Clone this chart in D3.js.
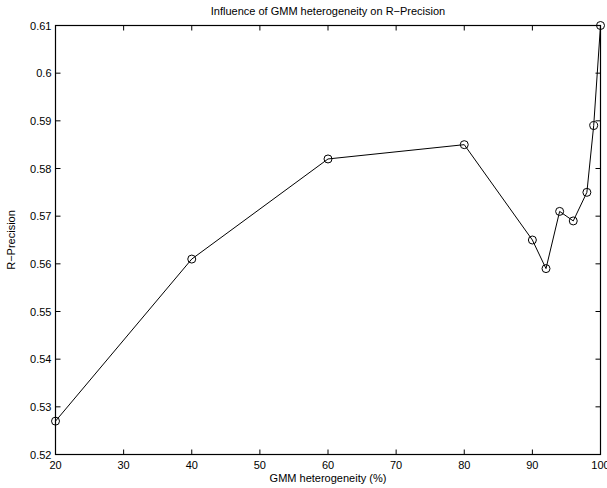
<!DOCTYPE html>
<html><head><meta charset="utf-8">
<script src="https://cdn.jsdelivr.net/npm/d3@7/dist/d3.min.js"></script>
<style>body{margin:0;background:#fff}svg{display:block}text{font-family:"Liberation Sans",Arial,sans-serif;fill:#000}</style>
</head><body><svg id="c" width="607" height="488"></svg>
<script>
const xValues = [20, 40, 60, 80, 90, 92, 94, 96, 98, 99, 100];
const yValues = [0.527, 0.561, 0.582, 0.585, 0.565, 0.559, 0.571, 0.569, 0.575, 0.589, 0.61];
const xTicks = [20, 30, 40, 50, 60, 70, 80, 90, 100];
const yTicks = [0.52, 0.53, 0.54, 0.55, 0.56, 0.57, 0.58, 0.59, 0.6, 0.61];
const titleText = "Influence of GMM heterogeneity on R\u2212Precision";
const xLabel = "GMM heterogeneity (%)";
const yLabel = "R\u2212Precision";

const svg = d3.select("#c");
const L = 55.5, R = 600.5, T = 25.5, B = 454.5;
const x = d3.scaleLinear().domain([20, 100]).range([L, R]);
const y = d3.scaleLinear().domain([0.52, 0.61]).range([B, T]);
const tl = 5;
const fmtY = d => String(d).replace(/^0\.(\d)0$/, "0.$1");

svg.append("rect").attr("x", L).attr("y", T).attr("width", R - L).attr("height", B - T)
  .attr("fill", "none").attr("stroke", "#000").attr("stroke-width", 1.2);

const g = svg.append("g");
xTicks.forEach(t => {
  g.append("line").attr("x1", x(t)).attr("x2", x(t)).attr("y1", B).attr("y2", B - tl).attr("stroke", "#000");
  g.append("line").attr("x1", x(t)).attr("x2", x(t)).attr("y1", T).attr("y2", T + tl).attr("stroke", "#000");
  g.append("text").attr("x", x(t)).attr("y", B + 14).attr("text-anchor", "middle").attr("font-size", 11).text(t);
});
yTicks.forEach(t => {
  g.append("line").attr("x1", L).attr("x2", L + tl).attr("y1", y(t)).attr("y2", y(t)).attr("stroke", "#000");
  g.append("line").attr("x1", R).attr("x2", R - tl).attr("y1", y(t)).attr("y2", y(t)).attr("stroke", "#000");
  g.append("text").attr("x", L - 4).attr("y", y(t) + 4).attr("text-anchor", "end").attr("font-size", 11).text(fmtY(t));
});

const pts = xValues.map((v, i) => [v, yValues[i]]);
svg.append("path").datum(pts)
  .attr("d", d3.line().x(d => x(d[0])).y(d => y(d[1])))
  .attr("fill", "none").attr("stroke", "#000").attr("stroke-width", 1);
svg.selectAll("circle.m").data(pts).enter().append("circle")
  .attr("cx", d => x(d[0])).attr("cy", d => y(d[1])).attr("r", 4)
  .attr("fill", "none").attr("stroke", "#000").attr("stroke-width", 1);

svg.append("text").attr("x", (L + R) / 2).attr("y", 15).attr("text-anchor", "middle").attr("font-size", 11).text(titleText);
svg.append("text").attr("x", (L + R) / 2).attr("y", 482).attr("text-anchor", "middle").attr("font-size", 11).text(xLabel);
svg.append("text").attr("transform", `translate(15,${(T + B) / 2}) rotate(-90)`).attr("text-anchor", "middle").attr("font-size", 11).text(yLabel);
</script></body></html>
